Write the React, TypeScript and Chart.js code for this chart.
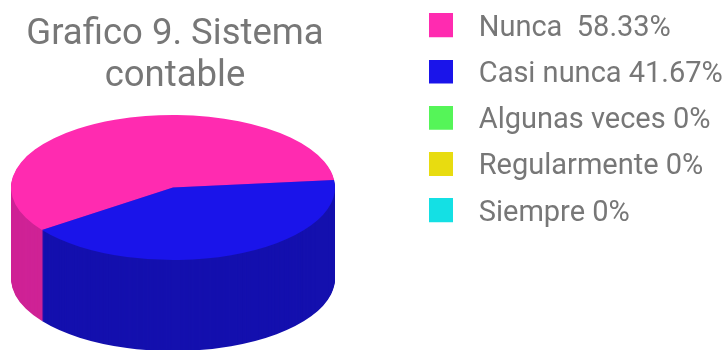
import React, { useEffect, useRef } from "react";
import { Chart, registerables } from "chart.js";

Chart.register(...registerables);

const titleLines = ["Grafico 9. Sistema", "contable"];
const categories = ["Nunca  58.33%", "Casi nunca 41.67%", "Algunas veces 0%", "Regularmente 0%", "Siempre 0%"];
const shares = [58.33, 41.67, 0, 0, 0];
const topColors = ["#ff2bb0", "#1a14ea", "#55f558", "#e8dc10", "#14e0e4"];
const sideColors = ["#cf2396", "#1410ae", "#55f558", "#e8dc10", "#14e0e4"];

const TEXT_COLOR = "#777777";
const FONT = "Roboto";

// Geometry of the drum: where the top face sits and how it is flattened.
const DISC = { cx: 173, cy: 187.5, rx: 162, ry: 72.5, depth: 91 };
const LEGEND_WIDTH = 375;
const LEGEND_LEFT = 400;
const LEGEND_RAISE = 3.5;
const SWATCH = 24;
const SWATCH_LIFT = 3;

// The swatch sits at the top of a taller transparent tile, which lifts it above the text's midline.
function makeSwatch(color: string): HTMLCanvasElement {
  const c = document.createElement("canvas");
  c.width = SWATCH;
  c.height = SWATCH + SWATCH_LIFT * 2;
  const g = c.getContext("2d")!;
  g.fillStyle = color;
  g.fillRect(0, 0, SWATCH, SWATCH);
  return c;
}

// Paints the pie's own arcs through a flattening transform, stacked downward for the wall.
const drumPlugin = {
  id: "drum",
  beforeLayout(chart: any) {
    const legend = chart.legend;
    if (legend && !legend.__fixedWidth) {
      const fit = legend.fit;
      legend.fit = function () {
        fit.call(this);
        this.width = LEGEND_WIDTH;
      };
      legend.__fixedWidth = true;
    }
  },
  afterLayout(chart: any) {
    if (chart.legend) {
      chart.legend.left = LEGEND_LEFT;
      chart.legend.top -= LEGEND_RAISE;
    }
  },
  beforeDatasetDraw(chart: any, args: any) {
    const ctx = chart.ctx as CanvasRenderingContext2D;
    const arcs = args.meta.data;
    const first = arcs[0];
    const { x, y, outerRadius } = first.getProps(["x", "y", "outerRadius"], true);
    const paint = (colors: string[], drop: number) => {
      ctx.save();
      ctx.translate(DISC.cx, DISC.cy + drop);
      ctx.scale(DISC.rx / outerRadius, DISC.ry / outerRadius);
      ctx.translate(-x, -y);
      arcs.forEach((arc: any, i: number) => {
        if (!shares[i]) return;
        const saved = arc.options;
        arc.options = Object.assign({}, saved, { backgroundColor: colors[i], borderWidth: 0 });
        arc.draw(ctx);
        arc.options = saved;
      });
      ctx.restore();
    };
    for (let drop = DISC.depth; drop > 0; drop--) paint(sideColors, drop);
    paint(topColors, 0);
    return false;
  },
};

export default function App() {
  const ref = useRef<HTMLCanvasElement | null>(null);

  useEffect(() => {
    const chart = new Chart(ref.current!, {
      type: "pie",
      data: {
        labels: categories,
        datasets: [{ data: shares, backgroundColor: topColors, borderWidth: 0 }],
      },
      options: {
        responsive: false,
        animation: false,
        rotation: 234,
        layout: { padding: 0 },
        plugins: {
          tooltip: { enabled: false },
          title: {
            display: true,
            fullSize: false,
            text: titleLines,
            color: TEXT_COLOR,
            font: { family: FONT, size: 36.5, weight: "normal", lineHeight: 42 / 36.5 },
            padding: { top: 14, bottom: 10 },
          },
          legend: {
            position: "right",
            align: "start",
            labels: {
              font: { family: FONT, size: 29 },
              padding: 17.25,
              boxWidth: SWATCH,
              boxHeight: SWATCH,
              usePointStyle: true,
              pointStyleWidth: 47,
              generateLabels: () =>
                categories.map((text, i) => ({
                  text,
                  fontColor: TEXT_COLOR,
                  fillStyle: topColors[i],
                  strokeStyle: topColors[i],
                  lineWidth: 0,
                  pointStyle: makeSwatch(topColors[i]),
                  index: i,
                })),
            },
          },
        },
      } as any,
      plugins: [drumPlugin as any],
    });
    return () => chart.destroy();
  }, []);

  return (
    <div style={{ position: "fixed", left: 0, top: 0, width: 725, height: 350, background: "#ffffff" }}>
      <canvas ref={ref} width={725} height={350} style={{ display: "block" }} />
    </div>
  );
}
